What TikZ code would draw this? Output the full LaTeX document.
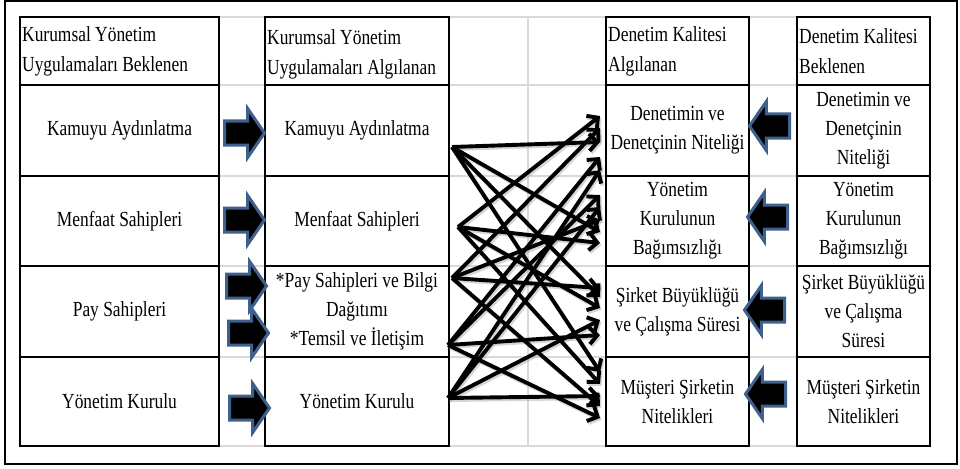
\documentclass[tikz,border=0pt]{standalone}
\usepackage{fontspec}
\setmainfont{Liberation Serif}[FakeStretch=0.81]
\usetikzlibrary{arrows.meta,shapes.arrows}
\definecolor{gridgray}{RGB}{217,217,217}
\definecolor{arrowblue}{RGB}{62,96,140}
\begin{document}
\begin{tikzpicture}[x=1pt,y=-1pt,
  cell/.style={draw=black, line width=2pt, fill=white, inner xsep=2pt, inner ysep=1pt, align=center, font=\fontsize{21.5}{29}\selectfont},
  htext/.style={inner xsep=3pt, inner ysep=0pt, align=left, anchor=west, font=\fontsize{21.5}{30}\selectfont},
  rarrow/.style={single arrow, draw=arrowblue, fill=black, line width=3pt, minimum height=40pt, minimum width=46pt, inner sep=10.5pt, single arrow head extend=12.5pt, single arrow tip angle=111, anchor=tail},
  larrow/.style={rarrow, shape border rotate=180},
  conn/.style={line width=3.9pt, -{Straight Barb[length=8pt,width=17pt]}, line join=round},
  connshadow/.style={line width=4pt, draw=black!35, opacity=0.45, -{Straight Barb[length=8pt,width=17pt]}},
  gridline/.style={draw=gridgray, line width=1.5pt}
]
\useasboundingbox (0,0) rectangle (960,468);
\fill[white] (0,0) rectangle (960,468);
% outer frame
\draw[line width=2pt] (4.5,1.5) rectangle (956.5,463.5);
% spreadsheet grid
\foreach \yy in {17,85,176,266,357,446} \draw[gridline] (20,\yy) -- (930,\yy);
\draw[gridline] (528,17) -- (528,446);

% column A
\node[cell, minimum height=68pt, minimum width=199pt] (a0) at (119.5,51) {};
\node[htext] (a0t) at (a0.west) {Kurumsal Yönetim\\Uygulamaları Beklenen};
\node[cell, minimum height=91pt, minimum width=199pt] (a1) at (119.5,130.5) {Kamuyu Aydınlatma};
\node[cell, minimum height=90pt, minimum width=199pt] (a2) at (119.5,221) {Menfaat Sahipleri};
\node[cell, minimum height=91pt, minimum width=199pt] (a3) at (119.5,311.5) {Pay Sahipleri};
\node[cell, minimum height=89pt, minimum width=199pt] (a4) at (119.5,401.5) {Yönetim Kurulu};
% column B
\node[cell, minimum height=68pt, minimum width=184pt] (b0) at (357,51) {};
\node[htext] (b0t) at ([yshift=-3pt]b0.west) {Kurumsal Yönetim\\Uygulamaları Algılanan};
\node[cell, minimum height=91pt, minimum width=184pt] (b1) at (357,130.5) {Kamuyu Aydınlatma};
\node[cell, minimum height=90pt, minimum width=184pt] (b2) at (357,221) {Menfaat Sahipleri};
\node[cell, minimum height=91pt, minimum width=184pt] (b3) at (357,311.5) {*Pay Sahipleri ve Bilgi\\Dağıtımı\\*Temsil ve İletişim};
\node[cell, minimum height=89pt, minimum width=184pt] (b4) at (357,401.5) {Yönetim Kurulu};
% column C
\node[cell, minimum height=68pt, minimum width=143pt] (c0) at (677.5,51) {};
\node[htext] (c0t) at (c0.west) {Denetim Kalitesi\\Algılanan};
\node[cell, minimum height=91pt, minimum width=143pt] (c1) at (677.5,130.5) {Denetimin ve\\Denetçinin Niteliği};
\node[cell, minimum height=90pt, minimum width=143pt] (c2) at (677.5,221) {Yönetim\\Kurulunun\\Bağımsızlığı};
\node[cell, minimum height=91pt, minimum width=143pt] (c3) at (677.5,311.5) {Şirket Büyüklüğü\\ve Çalışma Süresi};
\node[cell, minimum height=89pt, minimum width=143pt] (c4) at (677.5,401.5) {Müşteri Şirketin\\Nitelikleri};
% column D
\node[cell, minimum height=68pt, minimum width=133pt] (d0) at (863.5,51) {};
\node[htext] (d0t) at (d0.west) {Denetim Kalitesi\\Beklenen};
\node[cell, minimum height=91pt, minimum width=133pt] (d1) at (863.5,130.5) {Denetimin ve\\Denetçinin\\Niteliği};
\node[cell, minimum height=90pt, minimum width=133pt] (d2) at (863.5,221) {Yönetim\\Kurulunun\\Bağımsızlığı};
\node[cell, minimum height=91pt, minimum width=133pt] (d3) at (863.5,311.5) {Şirket Büyüklüğü\\ve Çalışma\\Süresi};
\node[cell, minimum height=89pt, minimum width=133pt] (d4) at (863.5,401.5) {Müşteri Şirketin\\Nitelikleri};

% block arrows
\node[rarrow] (ra1) at (223,133) {};
\node[rarrow] (ra2) at (223,220) {};
\node[rarrow] (ra3) at (225,286) {};
\node[rarrow] (ra4) at (227,333) {};
\node[rarrow] (ra5) at (228,408) {};
\node[larrow] (la1) at (791,126) {};
\node[larrow] (la2) at (789,217) {};
\node[larrow] (la3) at (786,310) {};
\node[larrow] (la4) at (787,394) {};

% connector end points
\coordinate (s1) at (452,147);
\coordinate (s2) at (458,227);
\coordinate (s3) at (452,278);
\coordinate (s4) at (448,345);
\coordinate (s5) at (448,398);
\foreach \n/\yy in {e21/116, e31/128, e11/142, e41/157, e51/170,
                    e42/195, e52/207, e32/220, e12/232, e22/243,
                    e33/288, e13/297, e23/308, e53/320, e43/335,
                    e14/372, e24/384, e54/396, e34/406, e44/418}
  \coordinate (\n) at (600,\yy);

\begin{scope}[transform canvas={shift={(1.5pt,-2pt)}}]
\foreach \s in {1,...,5} \foreach \t in {1,...,4} \draw[connshadow] (s\s) -- (e\s\t);
\end{scope}
\foreach \s in {1,...,5} \foreach \t in {1,...,4} \draw[conn] (s\s) -- (e\s\t);
\end{tikzpicture}
\end{document}
